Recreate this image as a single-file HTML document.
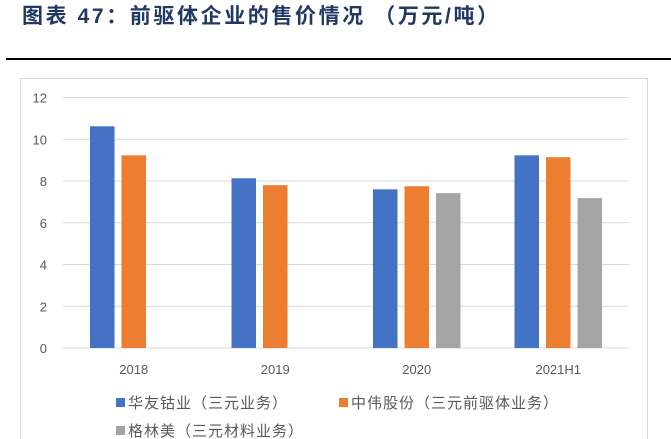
<!DOCTYPE html>
<html><head><meta charset="utf-8"><style>
body{margin:0;width:671px;height:439px;background:#fff;overflow:hidden;position:relative;font-family:"Liberation Sans","Noto Sans CJK SC",sans-serif}
#title{position:absolute;left:22px;top:0px;font-size:21px;font-weight:bold;color:#1f3864;letter-spacing:2.6px;white-space:nowrap}
#rule{position:absolute;left:6px;top:58px;width:665px;height:2px;background:#000}
svg{position:absolute;left:0;top:0}
</style></head><body>
<div id="title">图表 47：前驱体企业的售价情况 （万元/吨）</div>
<div id="rule"></div>
<svg id="chart" width="671" height="439">
<rect x="20.5" y="78.5" width="627" height="370" fill="none" stroke="#d9d9d9"/>
<g id="grid"></g><g id="bars"></g><g id="xlabels"></g>
<g font-size="15" fill="#595959" font-family="Liberation Sans, Noto Sans CJK SC, sans-serif">
<rect x="116" y="398" width="9" height="9" fill="#4472c4"/>
<text x="128" y="408" letter-spacing="1">华友钴业（三元业务）</text>
<rect x="339" y="398" width="9" height="9" fill="#ed7d31"/>
<text x="351" y="408" letter-spacing="1">中伟股份（三元前驱体业务）</text>
<rect x="116" y="426" width="9" height="9" fill="#a5a5a5"/>
<text x="128" y="436" letter-spacing="1">格林美（三元材料业务）</text>
</g>
</svg>
<script>
const categories=["2018","2019","2020","2021H1"];
const huayou=[10.62,8.13,7.6,9.23];
const zhongwei=[9.23,7.8,7.75,9.14];
const gem=[null,null,7.42,7.18];
const yTicks=[0,2,4,6,8,10,12];
const NS="http://www.w3.org/2000/svg";
const x0=63,x1=629,yb=348,yt=97.5;
const y=v=>yb-(v/12)*(yb-yt);
const bw=(x1-x0)/categories.length;
const xc=i=>x0+bw*(i+0.5);
function mk(t,a){const e=document.createElementNS(NS,t);for(const k in a)e.setAttribute(k,a[k]);return e;}
const grid=document.getElementById('grid');
yTicks.forEach(t=>{
 const l=mk('line',{x1:x0,x2:x1,y1:y(t),y2:y(t),stroke:'#d9d9d9','stroke-width':1});
 
 
 grid.appendChild(l);
 const tx=mk('text',{x:47,y:y(t)+5,'text-anchor':'end','font-size':13,fill:'#595959'});
 tx.textContent=t;
 
 
 grid.appendChild(tx);
});
const series=[[huayou,'#4472c4','huayou'],[zhongwei,'#ed7d31','zhongwei'],[gem,'#a5a5a5','gem']];
const bars=document.getElementById('bars'),xl=document.getElementById('xlabels');
const w=24.5,step=31.5;
categories.forEach((c,i)=>{
 series.forEach((s,j)=>{
  const v=s[0][i]; if(v==null) return;
  const r=mk('rect',{x:xc(i)+(j-1)*step-w/2,y:y(v),width:w,height:yb-y(v),fill:s[1]});
  
  
  bars.appendChild(r);
 });
 const t=mk('text',{x:xc(i),y:374,'text-anchor':'middle','font-size':13,fill:'#595959'});
 t.textContent=c;
 
 
 xl.appendChild(t);
});
</script>
</body></html>
